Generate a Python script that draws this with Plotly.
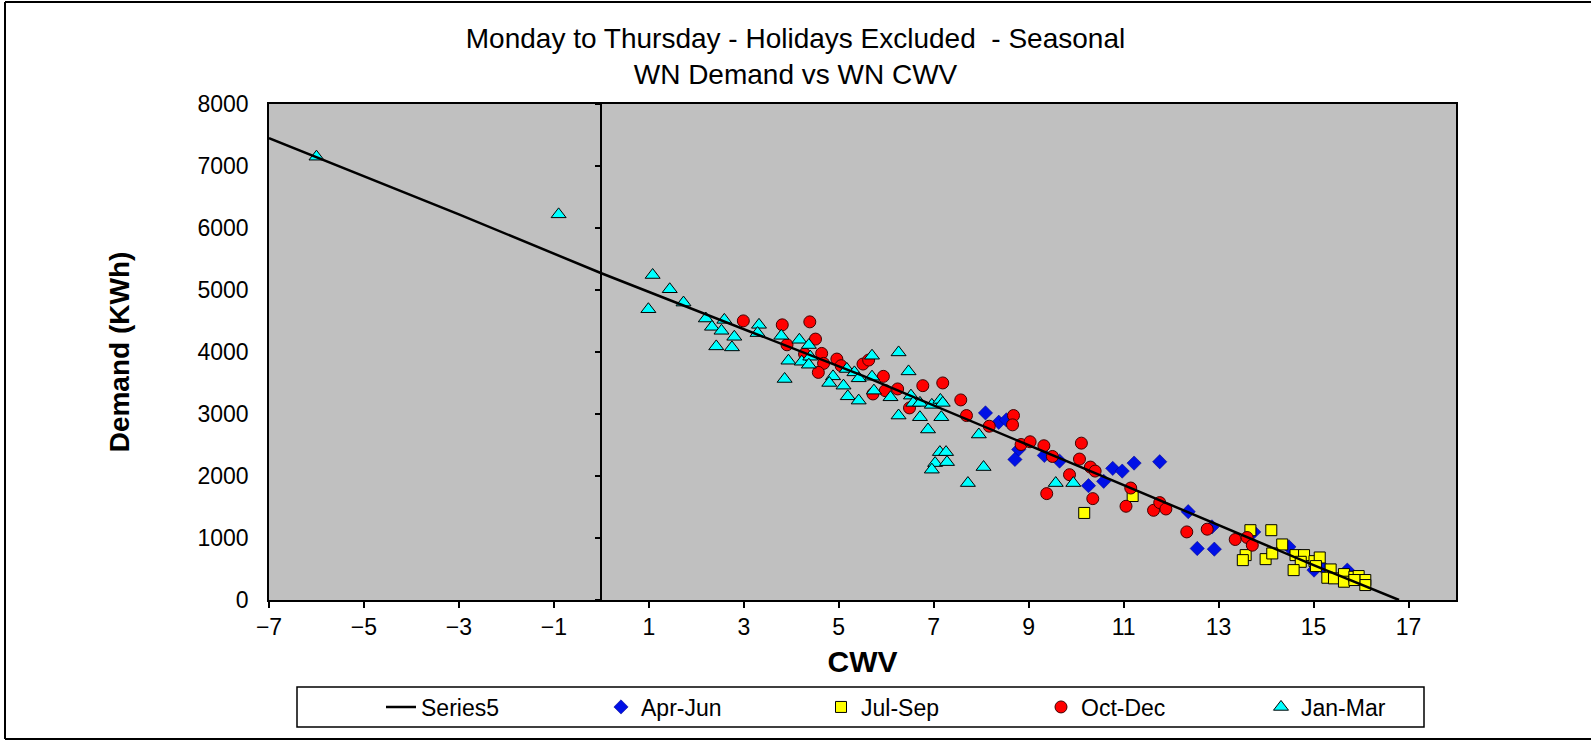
import plotly.graph_objects as go

# ---- data ----
fit_x = [-7, -3, 0, 5.5, 10.1, 15.0, 16.8]
fit_y = [7450, 6220, 5270, 3618, 2144, 563, 0]

apr_jun_x = [8.09, 8.37, 8.53, 8.79, 8.71, 9.33, 9.65, 10.26, 10.58, 10.77, 10.97, 11.22, 11.76,
             12.36, 12.55, 12.91, 12.86, 13.74, 14.48, 15.01, 15.71, 15.22]
apr_jun_y = [3018, 2867, 2905, 2428, 2267, 2332, 2240, 1844, 1914, 2123, 2079, 2208, 2230,
             1425, 831, 820, 1179, 1098, 857, 482, 482, 510]

jul_sep_x = [10.17, 11.19, 13.67, 14.11, 14.34, 13.57, 13.51, 13.99, 14.13, 14.62, 14.80, 14.73,
             14.58, 15.02, 15.13, 15.05, 15.36, 15.29, 15.43, 15.64, 15.64, 15.86, 15.95, 16.09,
             16.09, 15.86]
jul_sep_y = [1404, 1677, 1126, 1126, 896, 724, 643, 659, 751, 724, 724, 616,
             482, 627, 686, 547, 493, 359, 349, 418, 295, 375, 386, 322,
             241, 322]

oct_dec_x = [2.99, 3.81, 4.39, 4.51, 3.91, 4.64, 4.68, 4.28, 4.96, 5.05, 4.57, 5.51, 5.63, 5.94,
             5.72, 5.98, 6.24, 6.49, 6.77, 7.19, 7.57, 7.69, 8.17, 8.68, 8.66, 8.84, 9.03, 9.32,
             9.50, 10.11, 10.07, 10.30, 10.40, 9.86, 9.38, 10.35, 11.15, 11.05, 11.63, 11.76,
             11.89, 12.33, 12.76, 13.35, 13.60, 13.71]
oct_dec_y = [4502, 4438, 4486, 4208, 4116, 3977, 3816, 3967, 3886, 3779, 3671, 3806, 3870, 3607,
             3323, 3377, 3404, 3098, 3457, 3501, 3227, 2975, 2803, 2975, 2825, 2508, 2552, 2488,
             2315, 2530, 2273, 2144, 2079, 2021, 1716, 1635, 1806, 1512, 1447, 1571,
             1468, 1098, 1142, 976, 1008, 884]

jan_mar_x = [-6.0, -0.9, 1.08, 1.44, 0.99, 1.73, 2.20, 2.59, 2.33, 2.53, 2.80, 3.32, 3.29, 2.42,
             2.75, 3.79, 4.17, 4.37, 3.94, 4.22, 4.40, 4.37, 3.86, 4.88, 4.80, 5.10, 5.17, 5.33,
             5.42, 5.70, 5.70, 5.19, 5.42, 5.74, 6.09, 6.26, 6.26, 6.47, 6.52, 6.57, 6.71, 6.96,
             7.14, 7.19, 6.71, 7.16, 6.88, 7.95, 7.13, 7.26, 7.03, 7.28, 6.96, 8.05, 7.72, 9.57,
             9.94]
jan_mar_y = [7150, 6220, 5242, 5012, 4690, 4797, 4540, 4518, 4406, 4342, 4245, 4438, 4305, 4090,
             4074, 4261, 4197, 4112, 3859, 3843, 3924, 3795, 3565, 3607, 3501, 3457, 3726, 3671,
             3575, 3940, 3602, 3285, 3216, 3377, 3269, 3993, 2975, 3687, 3296, 3179, 3179, 3147,
             3227, 3179, 2948, 2948, 2750, 2669, 2385, 2385, 2208, 2224, 2102, 2144, 1886, 1886,
             1886]

x_ticks = [-7, -5, -3, -1, 1, 3, 5, 7, 9, 11, 13, 15, 17]
y_ticks = [0, 1000, 2000, 3000, 4000, 5000, 6000, 7000, 8000]

FONT = "Liberation Sans, Arial, sans-serif"

fig = go.Figure()

fig.add_trace(go.Scatter(x=fit_x, y=fit_y, mode="lines", name="Series5",
                         line=dict(color="black", width=2.5), yaxis="y2"))
fig.add_trace(go.Scatter(x=apr_jun_x, y=apr_jun_y, mode="markers", name="Apr-Jun",
                         marker=dict(symbol="diamond", size=11, color="#0010E6",
                                     line=dict(color="#000080", width=0.5))))
fig.add_trace(go.Scatter(x=jul_sep_x, y=jul_sep_y, mode="markers", name="Jul-Sep",
                         marker=dict(symbol="square", size=11, color="#FFFF00",
                                     line=dict(color="black", width=1))))
fig.add_trace(go.Scatter(x=oct_dec_x, y=oct_dec_y, mode="markers", name="Oct-Dec",
                         marker=dict(symbol="circle", size=12, color="#FF0000",
                                     line=dict(color="#400000", width=1))))
fig.add_trace(go.Scatter(x=jan_mar_x, y=jan_mar_y, mode="markers", name="Jan-Mar",
                         marker=dict(symbol="triangle-up", size=13, color="#00FFFF",
                                     line=dict(color="black", width=1))))

W, H = 1591, 741
L, R, T, B = 269, 135, 104, 141
pw, ph = W - L - R, H - T - B

def px2paper_x(px):
    return (px - L) / pw

def px2paper_y(py):
    return (H - B - py) / ph

fig.update_layout(
    width=W, height=H,
    margin=dict(l=L, r=R, t=T, b=B),
    paper_bgcolor="white",
    plot_bgcolor="#C0C0C0",
    font=dict(family=FONT, color="black"),
    title=dict(text="Monday to Thursday - Holidays Excluded  - Seasonal<br>WN Demand vs WN CWV",
               x=0.5, xref="container", xanchor="center",
               y=1 - 48 / H, yref="container", yanchor="middle",
               font=dict(size=28, family=FONT, color="black")),
    xaxis=dict(range=[-7, 18], tickmode="array", tickvals=x_ticks,
               ticks="outside", ticklen=6, tickwidth=1.5, tickcolor="black",
               showline=True, linecolor="black", linewidth=1.5, mirror=True,
               showgrid=False, zeroline=False,
               tickfont=dict(size=23, family=FONT),
               title=dict(text="<b>CWV</b>", font=dict(size=30, family=FONT), standoff=12)),
    yaxis=dict(range=[0, 8000], tickmode="array", tickvals=y_ticks,
               ticks="outside", ticklen=14, tickcolor="rgba(0,0,0,0)",
               showline=True, linecolor="black", linewidth=1.5, mirror=True,
               showgrid=False, zeroline=False,
               tickfont=dict(size=23, family=FONT),
               title=dict(text="<b>Demand (KWh)</b>", font=dict(size=28, family=FONT), standoff=60)),
    yaxis2=dict(range=[0, 8000], overlaying="y", anchor="free", position=7 / 25,
                tickmode="array", tickvals=y_ticks, ticks="outside", ticklen=6,
                tickwidth=1.5, tickcolor="black", showticklabels=False,
                showline=True, linecolor="black", linewidth=1.5,
                showgrid=False, zeroline=False),
    showlegend=True,
    legend=dict(orientation="h", x=px2paper_x(381), xanchor="left",
                y=px2paper_y(707), yanchor="middle",
                bgcolor="rgba(0,0,0,0)", borderwidth=0,
                entrywidth=175, entrywidthmode="pixels",
                font=dict(size=23, family=FONT), traceorder="normal"),
)

# legend frame
fig.add_shape(type="rect", xref="paper", yref="paper",
              x0=px2paper_x(297), x1=px2paper_x(1424),
              y0=px2paper_y(727), y1=px2paper_y(687),
              line=dict(color="black", width=1.5), fillcolor="rgba(0,0,0,0)", layer="below")

# outer chart frame (top, left, bottom)
for (x0, y0, x1, y1) in [(5, 2, W, 2), (5, 2, 5, 739), (5, 739, W, 739)]:
    fig.add_shape(type="line", xref="paper", yref="paper",
                  x0=px2paper_x(x0), y0=px2paper_y(y0), x1=px2paper_x(x1), y1=px2paper_y(y1),
                  line=dict(color="black", width=2))

fig.write_html("out.html", config={"displayModeBar": False},
               post_script="document.body.style.margin='0px';document.body.style.overflow='hidden';")
